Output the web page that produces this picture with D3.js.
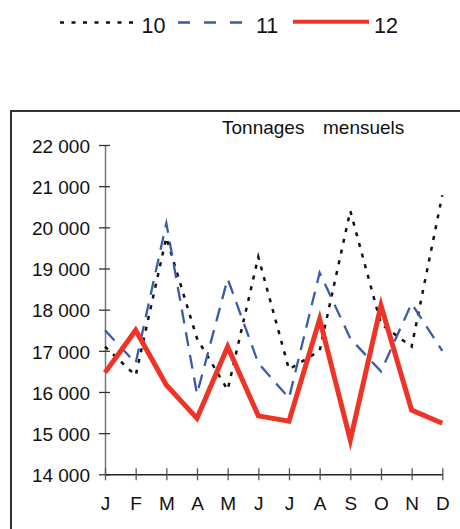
<!DOCTYPE html>
<html>
<head>
<meta charset="utf-8">
<script src="https://cdn.jsdelivr.net/npm/d3@7"></script>
<style>
  html, body { margin: 0; padding: 0; background: #fff; }
  svg { display: block; font-family: "Liberation Sans", Arial, Helvetica, sans-serif; }
</style>
</head>
<body>
<svg id="chart" width="460" height="529"></svg>
<script>
const months = ["J","F","M","A","M","J","J","A","S","O","N","D"];
const seriesNames = ["10","11","12"];
const values10 = [17100,16400,19750,17300,16050,19280,16550,17000,20400,17650,17100,20780];
const values11 = [17500,16700,20100,15950,18750,16700,15850,18900,17300,16500,18150,17000];
const values12 = [16470,17500,16170,15360,17100,15420,15290,17770,14830,18100,15560,15240];
const yTicks = [14000,15000,16000,17000,18000,19000,20000,21000,22000];
const titleWords = ["Tonnages","mensuels"];

const svg = d3.select("#chart");
const idx = months.map((m,i)=>i);

const x = d3.scalePoint().domain(idx).range([105, 442.3]);
const y = d3.scaleLinear().domain([14000, 22000]).range([474.3, 145]);

// frame
svg.append("rect").attr("x",11).attr("y",111).attr("width",700).attr("height",700)
  .attr("fill","none").attr("stroke","#333").attr("stroke-width",2);

// title
svg.append("text").attr("x",222).attr("y",134).attr("font-size",19).attr("fill","#111").text(titleWords[0]);
svg.append("text").attr("x",323).attr("y",134).attr("font-size",19).attr("fill","#111").text(titleWords[1]);

const fmt = v => d3.format(",")(v).replace(/,/g, " ");

// y axis
const gy = svg.append("g").attr("transform","translate(105,0)");
gy.call(d3.axisLeft(y).tickValues(yTicks).tickFormat(fmt).tickSizeInner(6).tickSizeOuter(0).tickPadding(9));
gy.select(".domain").attr("stroke","#777").attr("stroke-width",1.5);
gy.selectAll(".tick line").attr("stroke","#333").attr("stroke-width",1.3);
gy.selectAll(".tick text").attr("font-size",19).attr("fill","#111").attr("font-family","Liberation Sans, Arial, sans-serif").attr("dy","0.38em");
const gy2 = svg.append("g").attr("transform","translate(105,0)");
gy2.call(d3.axisRight(y).tickValues(yTicks).tickFormat("").tickSizeInner(5).tickSizeOuter(0));
gy2.select(".domain").remove();
gy2.selectAll(".tick line").attr("stroke","#333").attr("stroke-width",1.3);

// x axis
const gx = svg.append("g").attr("transform","translate(0,474.3)");
gx.call(d3.axisBottom(x).tickFormat(i=>months[i]).tickSizeInner(6).tickSizeOuter(0).tickPadding(16));
gx.select(".domain").attr("stroke","#222").attr("stroke-width",1.5);
gx.selectAll(".tick line").attr("stroke","#555").attr("stroke-width",1.3);
gx.selectAll(".tick text").attr("font-size",19).attr("fill","#111").attr("font-family","Liberation Sans, Arial, sans-serif");
const gx2 = svg.append("g").attr("transform","translate(0,474.3)");
gx2.call(d3.axisTop(x).tickFormat("").tickSizeInner(6).tickSizeOuter(0));
gx2.select(".domain").remove();
gx2.selectAll(".tick line").attr("stroke","#555").attr("stroke-width",1.3);

const styles = [
  {color:"#111", width:2.5, dash:"4,7", legendDash:"4,7.5"},
  {color:"#3b5ba8", width:2.3, dash:"14,9", legendDash:"12,14"},
  {color:"#ee3327", width:5, dash:null, legendDash:null}
];
const allSeries = [values10, values11, values12];

const line = d3.line().x((d,i)=>x(i)).y(d=>y(d));
allSeries.forEach((vals, s) => {
  const st = styles[s];
  svg.append("path").datum(vals).attr("d", line)
    .attr("fill","none").attr("stroke", st.color).attr("stroke-width", st.width)
    .attr("stroke-dasharray", st.dash).attr("stroke-linejoin","miter").attr("stroke-miterlimit", 20);
});

// legend
const legendX = [[60,135,141.5],[178,244,256],[293,369,374]];
const legendY = [22.5,22.5,21.7];
seriesNames.forEach((n, s) => {
  const st = styles[s];
  svg.append("line").attr("x1",legendX[s][0]).attr("x2",legendX[s][1]).attr("y1",legendY[s]).attr("y2",legendY[s])
    .attr("stroke", st.color).attr("stroke-width", s===2 ? 4 : 2.5).attr("stroke-dasharray", st.legendDash);
  svg.append("text").attr("x",legendX[s][2]).attr("y",32.7).attr("font-size",21.5).attr("fill","#111").text(n);
});
</script>
</body>
</html>
